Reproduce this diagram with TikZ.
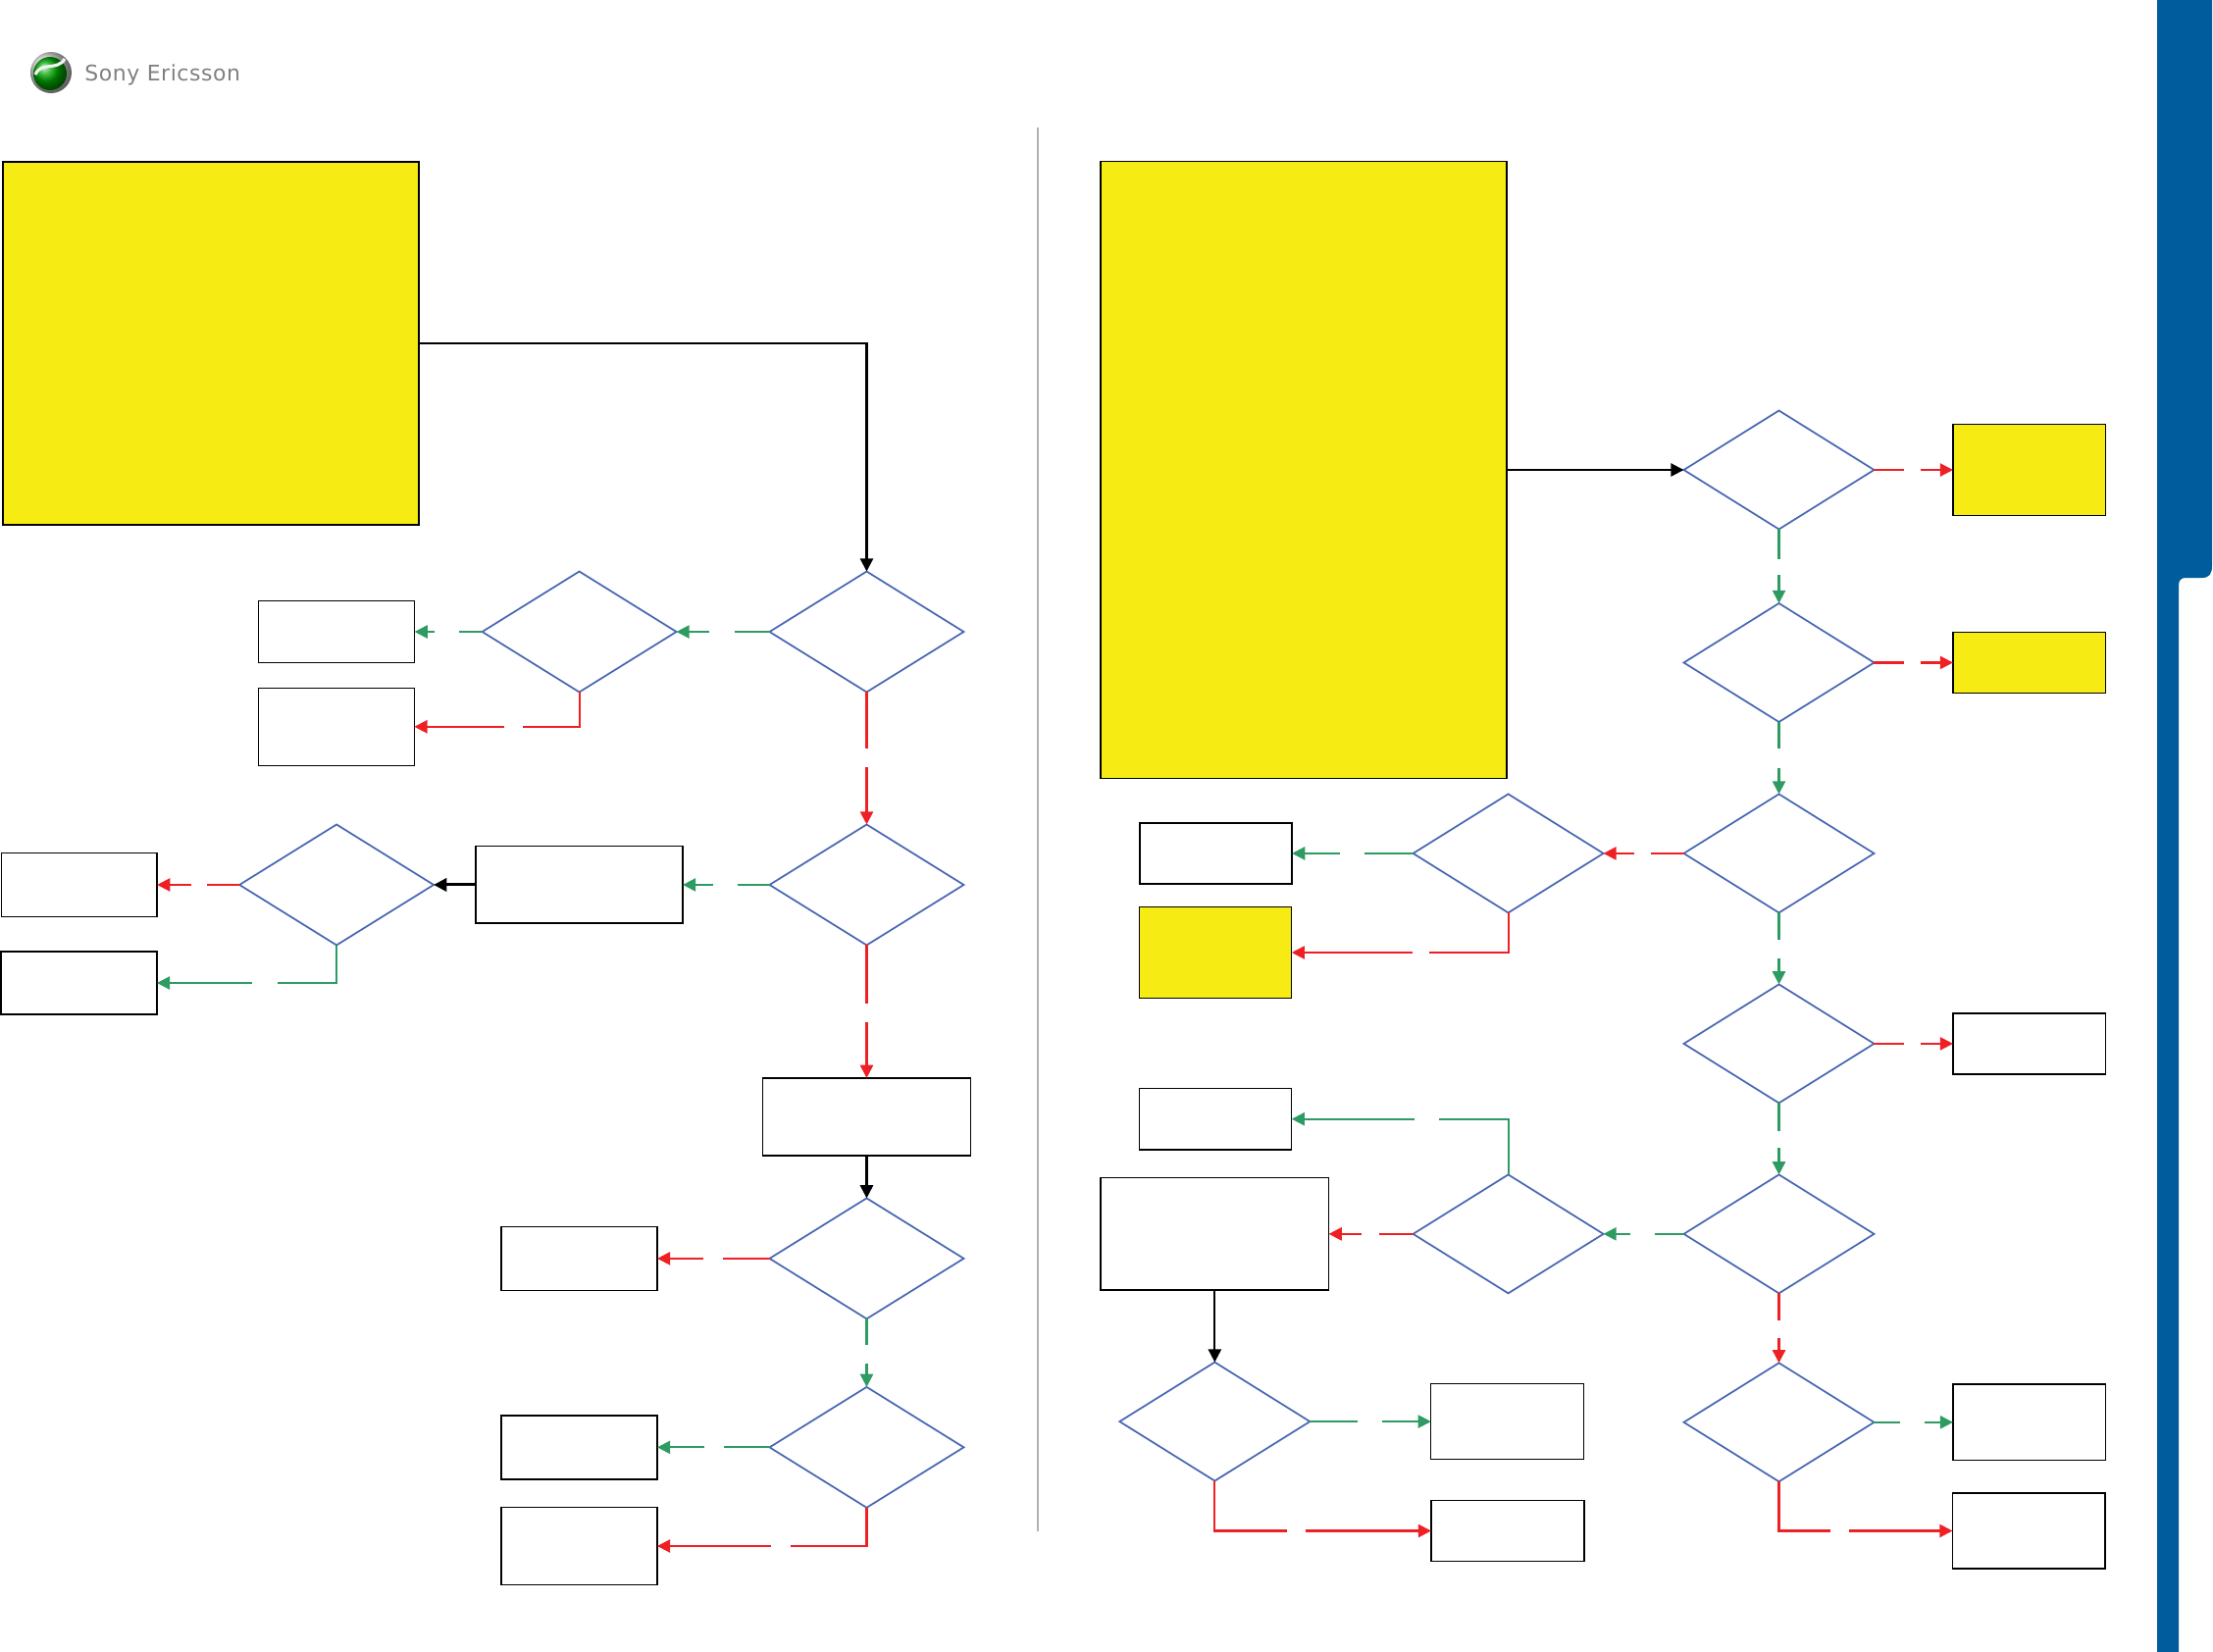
\documentclass[tikz,border=0pt]{standalone}
\usepackage{fontspec}
\usepackage{xcolor}
\usepackage{tikz}
\usetikzlibrary{arrows.meta, positioning, shapes.geometric}
\newfontfamily\logofont[LetterSpace=2.5]{DejaVu Sans}
\definecolor{seblue}{RGB}{0,92,156}
\definecolor{seyellow}{RGB}{246,236,19}
\definecolor{seline}{RGB}{74,104,179}
\definecolor{segreen}{RGB}{46,155,98}
\definecolor{sered}{RGB}{238,32,36}

\begin{document}
\begin{tikzpicture}[
        x=0.02cm, y=-0.02cm,
        >={Triangle[length=7.5pt,width=7.5pt]},
        decision/.style={diamond, draw=seline, line width=1pt, inner sep=0pt,
                         outer sep=0pt, minimum width=3.96cm, minimum height=2.46cm},
        choice/.style={decision, minimum width=3.88cm, minimum height=2.42cm},
        result/.style={rectangle, draw=black, line width=0.75pt, inner sep=0pt,
                       outer sep=0pt, minimum width=#1},
        result/.default=3.18cm,
        notes/.style={result=#1, fill=seyellow},
        notes/.default=3.11cm,
        gap/.style 2 args={dash pattern=on #1 off #2 on 40cm off 1pt},
        yes/.style={->, segreen, line width=1.2pt},
        no/.style={->, sered, line width=1.2pt},
        flow/.style={->, black, line width=1.2pt}
      ]
      \useasboundingbox (0,0) rectangle (2256,1684);

      % side band
      \fill[seblue] (2199,0) -- (2255,0) -- (2255,577)
        .. controls (2255,585) and (2252,589) .. (2245,589) -- (2228,589)
        .. controls (2223,589) and (2221,592) .. (2221,597)
        -- (2221,1684) -- (2199,1684) -- cycle;

      % logo
      \shade[ball color=gray!25] (52,74) circle[radius=21];
      \shade[ball color=green!65!black] (51,75) circle[radius=17];
      \draw[white!90!gray, line width=1.8pt] (66,60) .. controls (58,73) and (42,62) .. (36,76);
      \node[anchor=base west, inner sep=0pt, text=black!50, font=\logofont\fontsize{12.5}{12.5}\selectfont]
        (logo) at (86,82.3) {Sony Ericsson};

      % divider
      \draw[black!30, line width=0.8pt] (1058,129.5) -- (1058,1561);

      % left column
      \node[notes=8.48cm, minimum height=7.4cm] (noteA) at (215,350) {};
      \node[decision] (d1) at (883.5,644) {};
      \node[decision] (d2) [left=1.9cm of d1] {};
      \node[result, minimum height=1.26cm] (a1) [left=1.38cm of d2] {};
      \node[result, minimum height=1.58cm] (a2) at (342.9,740.8) {};
      \node[decision] (d3) [below=2.7cm of d1] {};
      \node[result=4.23cm, minimum height=1.58cm, line width=1.1pt] (b1) [left=1.77cm of d3] {};
      \node[decision] (d4) [left=0.85cm of b1] {};
      \node[result, minimum height=1.31cm] (b2) [left=1.68cm of d4] {};
      \node[result, minimum height=1.28cm] (b3) at (80.5,1002) {};
      \node[result=4.24cm, minimum height=1.58cm] (c1) [below=2.71cm of d3] {};
      \node[decision] (d5) [below=0.87cm of c1] {};
      \node[result, minimum height=1.3cm] (c2) [left=2.29cm of d5] {};
      \node[decision] (d6) [below=1.39cm of d5] {};
      \node[result, minimum height=1.3cm] (c3) [left=2.29cm of d6] {};
      \node[result, minimum height=1.58cm] (c4) at (590.5,1576) {};

      \draw[flow] (noteA.east) -| (d1.north);
      \draw[yes, gap={0.71cm}{0.52cm}] (d1.west) -- (d2.east);
      \draw[yes, gap={0.48cm}{0.5cm}] (d2.west) -- (a1.east);
      \draw[no, gap={1.86cm}{0.38cm}] (d2.south) |- (a2.east);
      \draw[no, gap={1.16cm}{0.38cm}] (d1.south) -- (d3.north);
      \draw[yes, gap={0.65cm}{0.5cm}] (d3.west) -- (b1.east);
      \draw[flow, line width=1.7pt] (b1.west) -- (d4.east);
      \draw[no, gap={0.66cm}{0.32cm}] (d4.west) -- (b2.east);
      \draw[yes, gap={1.97cm}{0.52cm}] (d4.south) |- (b3.east);
      \draw[no, gap={1.19cm}{0.39cm}] (d3.south) -- (c1.north);
      \draw[flow] (c1.south) -- (d5.north);
      \draw[no, gap={0.95cm}{0.41cm}] (d5.west) -- (c2.east);
      \draw[yes, gap={0.54cm}{0.38cm}] (d5.south) -- (d6.north);
      \draw[yes, gap={0.93cm}{0.4cm}] (d6.west) -- (c3.east);
      \draw[no, gap={2.33cm}{0.41cm}] (d6.south) |- (c4.east);

      % right column
      \node[notes=8.28cm, minimum height=12.58cm] (noteB) at (1329,479) {};
      \node[choice] (r1) at (1813.5,479) {};
      \node[choice] (r2) [below=1.51cm of r1] {};
      \node[choice] (r3) [below=1.47cm of r2] {};
      \node[choice] (r4) [below=1.46cm of r3] {};
      \node[choice] (r5) [below=1.46cm of r4] {};
      \node[choice] (r6) [below=1.42cm of r5] {};
      \node[notes, minimum height=1.85cm] (e1) [right=1.61cm of r1] {};
      \node[notes, minimum height=1.25cm] (e2) [right=1.61cm of r2] {};
      \node[result=3.11cm, minimum height=1.24cm] (e4) [right=1.61cm of r4] {};
      \node[result=3.11cm, minimum height=1.55cm] (e6) [right=1.61cm of r6] {};
      \node[result=3.11cm, minimum height=1.54cm] (e7) at (2068.2,1560.5) {};
      \node[choice] (m3) [left=1.64cm of r3] {};
      \node[result=3.1cm, minimum height=1.24cm] (f1) [left=2.47cm of m3] {};
      \node[notes=3.1cm, minimum height=1.85cm] (f2) at (1239.3,971) {};
      \node[choice] (m5) [left=1.64cm of r5] {};
      \node[result=4.65cm, minimum height=2.29cm] (g1) [left=1.72cm of m5] {};
      \node[result=3.1cm, minimum height=1.25cm] (g2) at (1239.3,1140.7) {};
      \node[choice] (l1) [below=1.47cm of g1] {};
      \node[result=3.12cm, minimum height=1.55cm] (h1) [right=2.47cm of l1] {};
      \node[result=3.12cm, minimum height=1.24cm] (h2) at (1537,1560.5) {};

      \draw[flow] (noteB.east) -- (r1.west);
      \draw[no, gap={0.62cm}{0.34cm}] (r1.east) -- (e1.west);
      \draw[yes, gap={0.61cm}{0.32cm}] (r1.south) -- (r2.north);
      \draw[no, gap={0.62cm}{0.34cm}] (r2.east) -- (e2.west);
      \draw[yes, gap={0.54cm}{0.4cm}] (r2.south) -- (r3.north);
      \draw[no, gap={0.67cm}{0.34cm}] (r3.west) -- (m3.east);
      \draw[yes, gap={1cm}{0.5cm}] (m3.west) -- (f1.east);
      \draw[no, gap={2.43cm}{0.34cm}] (m3.south) |- (f2.east);
      \draw[yes, gap={0.55cm}{0.38cm}] (r3.south) -- (r4.north);
      \draw[no, gap={0.62cm}{0.34cm}] (r4.east) -- (e4.west);
      \draw[yes, gap={0.57cm}{0.35cm}] (r4.south) -- (r5.north);
      \draw[yes, gap={0.59cm}{0.5cm}] (r5.west) -- (m5.east);
      \draw[no, gap={0.7cm}{0.36cm}] (m5.west) -- (g1.east);
      \draw[yes, gap={2.54cm}{0.5cm}] (m5.north) |- (g2.east);
      \draw[no, gap={0.56cm}{0.36cm}] (r5.south) -- (r6.north);
      \draw[yes, gap={0.53cm}{0.5cm}] (r6.east) -- (e6.west);
      \draw[no, gap={2.06cm}{0.37cm}] (r6.south) |- (e7.west);
      \draw[flow] (g1.south) -- (l1.north);
      \draw[yes, gap={0.98cm}{0.5cm}] (l1.east) -- (h1.west);
      \draw[no, gap={2.5cm}{0.38cm}] (l1.south) |- (h2.west);
    \end{tikzpicture}
\end{document}
